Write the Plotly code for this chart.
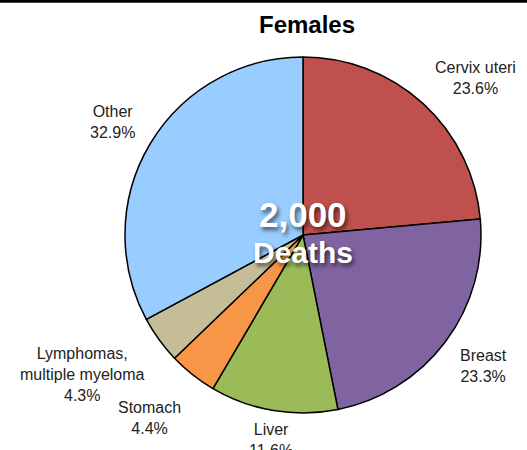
import math
import plotly.graph_objects as go

labels = ["Cervix uteri", "Breast", "Liver", "Stomach", "Lymphomas,<br>multiple myeloma", "Other"]
values = [23.6, 23.3, 11.6, 4.4, 4.3, 32.9]
colors = ["#C0504D", "#8064A2", "#9BBB59", "#F79646", "#C4BD97", "#99CCFF"]
title_text = "Females"
center_number = "2,000"
center_label = "Deaths"

W, H = 527, 450
cx, cy, R = 303, 235, 178
FONT = "Liberation Sans, Arial, sans-serif"
FS = 16

fig = go.Figure(go.Pie(
    labels=labels,
    values=values,
    sort=False,
    direction="clockwise",
    rotation=0,
    marker=dict(colors=colors, line=dict(color="black", width=1.5)),
    textinfo="none",
    showlegend=False,
    hoverinfo="label+value",
    domain=dict(x=[(cx - R) / W, (cx + R) / W], y=[(H - cy - R) / H, (H - cy + R) / H]),
))

# outside labels placed from each slice's mid-angle, with simple overlap avoidance
total = sum(values)
cum = 0.0
items = []
for lab, v in zip(labels, values):
    mid = (cum + v / 2) / total * 2 * math.pi
    cum += v
    dx, dy = math.sin(mid), -math.cos(mid)  # dy positive = down on screen
    px = cx + 1.085 * R * dx
    py = cy + 1.085 * R * dy
    xanchor = "left" if dx > 0.3 else ("right" if dx < -0.3 else "center")
    yanchor = "top" if dy > 0 else "bottom"
    text = f"{lab}<br>{v:.1f}%"
    lines = text.split("<br>")
    w = max(len(s) for s in lines) * 0.51 * FS
    h = len(lines) * 1.1 * FS
    x0 = px if xanchor == "left" else (px - w if xanchor == "right" else px - w / 2)
    y0 = py if yanchor == "top" else py - h
    items.append(dict(text=text, px=px, py=py, xanchor=xanchor, yanchor=yanchor,
                      x0=x0, x1=x0 + w, y0=y0, h=h, push=0.0))

lower = sorted([it for it in items if it["yanchor"] == "top"], key=lambda it: it["y0"])
placed = []
for it in lower:
    for o in placed:
        if it["x0"] < o["x1"] and it["x1"] > o["x0"] and it["y0"] < o["y0"] + o["h"] and it["y0"] + it["h"] > o["y0"]:
            new_y0 = o["y0"] + o["h"] + 2
            it["push"] += new_y0 - it["y0"]
            it["y0"] = new_y0
    placed.append(it)

for it in items:
    fig.add_annotation(
        x=it["px"] / W, y=(H - it["py"]) / H, xref="paper", yref="paper",
        text=it["text"], showarrow=False, align="center",
        xanchor=it["xanchor"], yanchor=it["yanchor"],
        yshift=(6 - it["push"]) if it["yanchor"] == "top" else -7,
        font=dict(family=FONT, size=FS, color="#222"),
    )

fig.add_annotation(
    x=cx / W, y=(H - cy + 20) / H, xref="paper", yref="paper",
    text=f"<b>{center_number}</b>", showarrow=False,
    font=dict(family=FONT, size=35, color="white", shadow="2px 3px 4px rgba(0,0,0,0.6)"),
)
fig.add_annotation(
    x=cx / W, y=(H - cy - 18) / H, xref="paper", yref="paper",
    text=f"<b>{center_label}</b>", showarrow=False,
    font=dict(family=FONT, size=30, color="white", shadow="2px 3px 4px rgba(0,0,0,0.6)"),
)

fig.add_shape(type="line", xref="paper", yref="paper", x0=0, x1=1, y0=1 - 1.3 / H, y1=1 - 1.3 / H,
              line=dict(color="black", width=3), layer="above")

fig.update_layout(
    width=W, height=H,
    margin=dict(l=0, r=0, t=0, b=0),
    paper_bgcolor="white", plot_bgcolor="white",
    title=dict(text=f"<b>{title_text}</b>", x=307 / W, xanchor="center", y=1 - 25 / H, yanchor="middle",
               font=dict(family=FONT, size=24, color="black")),
)

fig.write_html("out.html", config={"displayModeBar": False},
               post_script="document.body.style.margin='0';document.body.style.overflow='hidden';")
